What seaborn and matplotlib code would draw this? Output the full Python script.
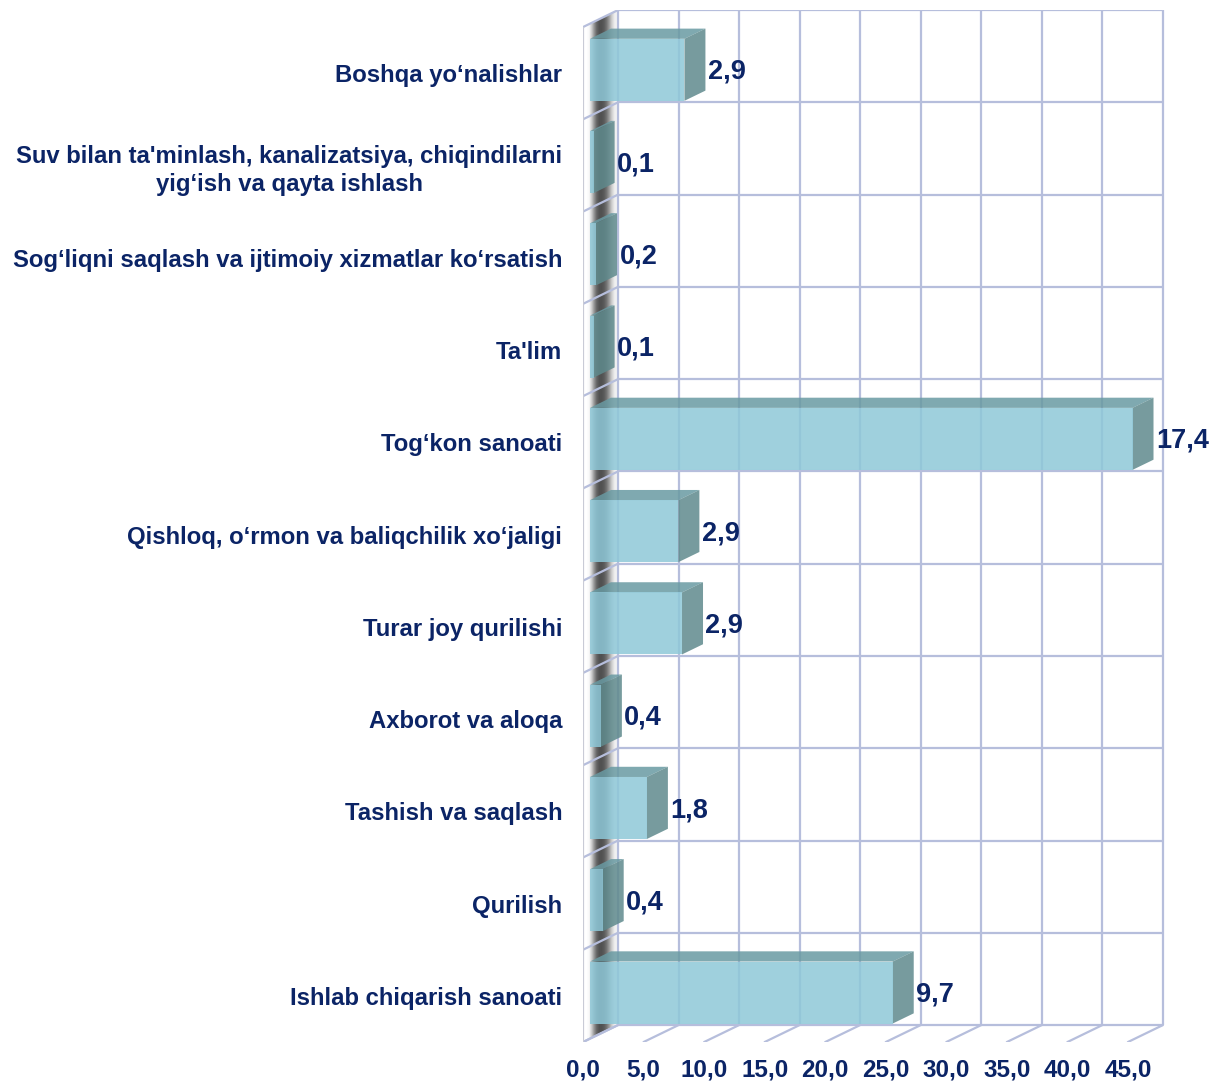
import numpy as np
import pandas as pd
import matplotlib
matplotlib.use("Agg")
import matplotlib.pyplot as plt
import matplotlib.transforms as mtransforms
from matplotlib.patches import Polygon
import seaborn as sns

sns.set_theme(style="white")
plt.rcParams['font.family'] = ['Liberation Sans', 'DejaVu Sans']

# chart data (top to bottom)
categories = [
    "Boshqa yo\u2018nalishlar",
    "Suv bilan ta'minlash, kanalizatsiya, chiqindilarni\nyig\u2018ish va qayta ishlash",
    "Sog\u2018liqni saqlash va ijtimoiy xizmatlar ko\u2018rsatish",
    "Ta'lim",
    "Tog\u2018kon sanoati",
    "Qishloq, o\u2018rmon va baliqchilik xo\u2018jaligi",
    "Turar joy qurilishi",
    "Axborot va aloqa",
    "Tashish va saqlash",
    "Qurilish",
    "Ishlab chiqarish sanoati",
]
bar_values = [7.8, 0.3, 0.5, 0.3, 44.8, 7.3, 7.6, 0.9, 4.7, 1.05, 25.0]
value_labels = ["2,9", "0,1", "0,2", "0,1", "17,4", "2,9", "2,9", "0,4", "1,8", "0,4", "9,7"]
x_ticks = [0, 5, 10, 15, 20, 25, 30, 35, 40, 45]

df = pd.DataFrame({"cat": categories, "val": bar_values})

navy = "#0b2466"
grid_c = "#b6bedc"

# depth vector of the fake 3D box (back wall -> front), in data units
dx, dy = -2.89, 0.184
ff, fb = 0.8, 0.2          # front / back depth of the bars
half = 0.336
n = len(categories)
top, bottom = -0.5, n - 0.5

fig = plt.figure(figsize=(12.1, 10.84), dpi=100)
ax = fig.add_axes([0.4818, 0.0387, 0.4851, 0.952])

# left wall with gray gradient
wall = Polygon([(0, top), (0, bottom), (dx, bottom + dy), (dx, top + dy)],
               closed=True, facecolor="none", edgecolor="none")
ax.add_patch(wall)
grad = np.array([1.0, 1.0, 0.97, 0.8, 0.58, 0.4, 0.32, 0.32, 0.36, 0.46, 0.62, 0.8, 0.92, 0.96])
img = ax.imshow(grad[np.newaxis, :], cmap="gray", vmin=0, vmax=1, aspect="auto",
                extent=[dx, 0, bottom + dy, top], zorder=0.5, interpolation="bilinear")
img.set_clip_path(wall)

# back wall grid
ax.vlines(x_ticks, top, bottom, color=grid_c, lw=1.6, zorder=1)
ax.hlines(np.arange(top, bottom + 0.01, 1), 0, x_ticks[-1], color=grid_c, lw=1.6, zorder=1)
# floor ticks and left wall edges
for t in x_ticks:
    ax.plot([t, t + dx], [bottom, bottom + dy], color=grid_c, lw=1.6, zorder=1)
for b in np.arange(top, bottom + 0.01, 1):
    ax.plot([0, dx], [b, b + dy], color=grid_c, lw=1.6, zorder=1)
ax.vlines(dx, top + dy, bottom + dy, color="#c9cbd6", lw=1.6, zorder=1)

# front faces with seaborn
sns.barplot(data=df, x="val", y="cat", orient="h", color="#8ec8d8", width=2 * half,
            saturation=1, alpha=0.85, linewidth=0, ax=ax, zorder=4)
shift = mtransforms.Affine2D().translate(ff * dx, ff * dy) + ax.transData
for p in ax.patches:
    p.set_transform(shift)

# top and side faces
for i, v in enumerate(bar_values):
    y0, y1 = i - half, i + half
    top_face = [(ff * dx, y0 + ff * dy), (v + ff * dx, y0 + ff * dy),
                (v + fb * dx, y0 + fb * dy), (fb * dx, y0 + fb * dy)]
    side_face = [(v + ff * dx, y0 + ff * dy), (v + ff * dx, y1 + ff * dy),
                 (v + fb * dx, y1 + fb * dy), (v + fb * dx, y0 + fb * dy)]
    ax.add_patch(Polygon(top_face, closed=True, facecolor="#699aa2", alpha=0.85,
                         edgecolor="none", zorder=3))
    ax.add_patch(Polygon(side_face, closed=True, facecolor="#5f8a8d", alpha=0.85,
                         edgecolor="none", zorder=3))
    ax.text(v + fb * dx + 0.2, i + 0.17, value_labels[i], fontsize=19.5, fontweight="bold",
            color=navy, va="center", ha="left", zorder=5)

ax.set_xlim(dx, 45.58)
ax.set_ylim(bottom + dy, top)

ax.set_yticks(np.arange(n) + dy)
ax.set_yticklabels(categories, fontsize=17.2, fontweight="bold", color=navy, linespacing=1.3)
for lbl in ax.get_yticklabels():
    lbl.set_multialignment("center")
ax.set_xticks(np.array(x_ticks) + dx)
ax.set_xticklabels([f"{t:.1f}".replace(".", ",") for t in x_ticks],
                   fontsize=17.5, fontweight="bold", color=navy)
ax.tick_params(axis="y", length=0, pad=15)
ax.tick_params(axis="x", length=0, pad=12)
ax.set_xlabel("")
ax.set_ylabel("")
for s in ax.spines.values():
    s.set_visible(False)
ax.set_facecolor("white")

fig.savefig("out.png", dpi=100, facecolor="white")
